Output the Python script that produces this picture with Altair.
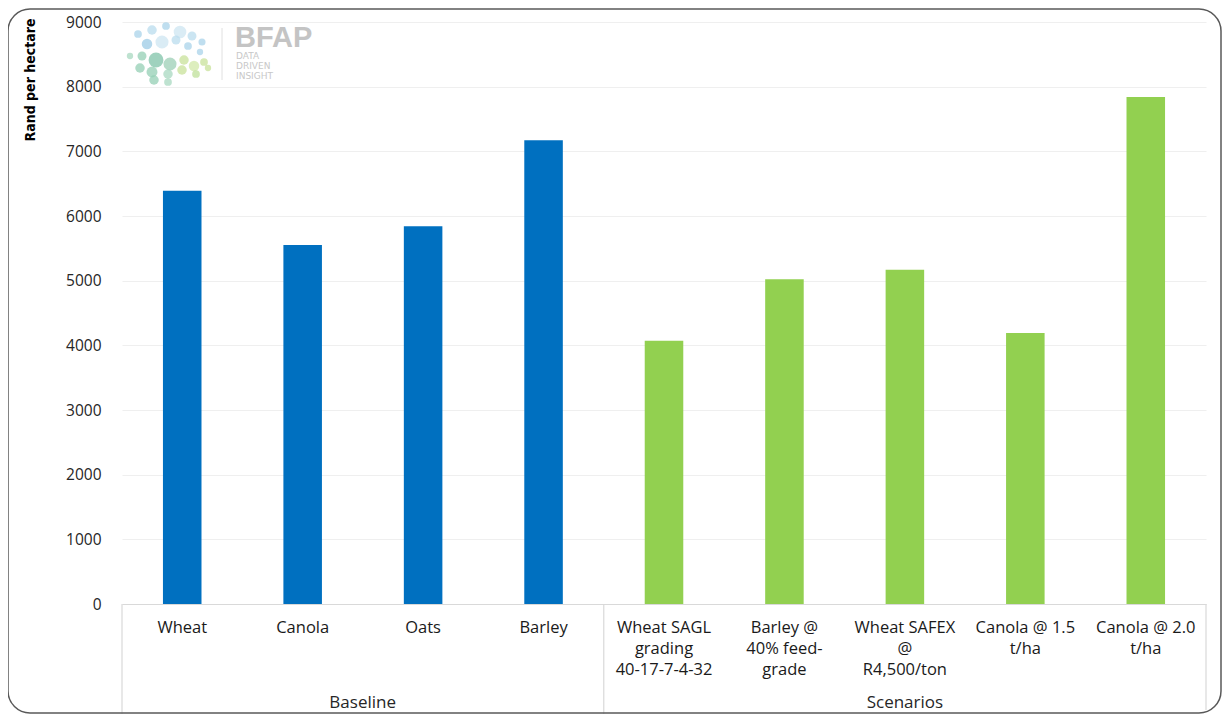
import altair as alt
import pandas as pd

categories = ["Wheat", "Canola", "Oats", "Barley",
              "Wheat SAGL|grading|40-17-7-4-32", "Barley @|40% feed-|grade",
              "Wheat SAFEX|@|R4,500/ton", "Canola @ 1.5|t/ha", "Canola @ 2.0|t/ha"]
values = [6390, 5550, 5840, 7170, 4070, 5020, 5170, 4190, 7840]
groups = ["Baseline"] * 4 + ["Scenarios"] * 5
group_names = ["Baseline", "Scenarios"]
group_anchor = ["Canola", "Wheat SAFEX|@|R4,500/ton"]
group_dx = [60, 0]
y_ticks = [0, 1000, 2000, 3000, 4000, 5000, 6000, 7000, 8000, 9000]

W, H = 1084, 582
FONT = "Open Sans"

df = pd.DataFrame({"cat": categories, "val": values, "grp": groups})

bar_scale = alt.Scale(domain=categories, paddingInner=0.68, paddingOuter=0.34)
flat_scale = alt.Scale(domain=categories, paddingInner=0, paddingOuter=0)

xenc = alt.X("cat:N", sort=categories, scale=bar_scale,
             axis=alt.Axis(title=None, labelExpr="split(datum.label, '|')",
                           labelAngle=0, labelFont=FONT, labelFontSize=16.5,
                           labelColor="#1a1a1a", labelLineHeight=21,
                           labelPadding=15, ticks=False, domainColor="#d9d9d9",
                           domainWidth=1, grid=False, labelBaseline="top"))

bars = alt.Chart(df).mark_bar().encode(
    x=xenc,
    y=alt.Y("val:Q", scale=alt.Scale(domain=[0, 9000], nice=False),
            axis=alt.Axis(values=y_ticks, format="d", title="Rand per hectare",
                          titleFont="DejaVu Sans Condensed", titleFontSize=14,
                          titleFontWeight="bold", titleColor="#000000",
                          titleAngle=-90, titleAlign="right", titleBaseline="middle",
                          titleX=-92, titleY=-4,
                          labelFont=FONT, labelFontSize=15.5, labelColor="#262626",
                          labelPadding=21, ticks=False, domain=False,
                          gridColor="#efefef", gridWidth=1)),
    color=alt.Color("grp:N", scale=alt.Scale(domain=group_names,
                                             range=["#0070C0", "#92D050"]),
                    legend=None),
)

sep_start = alt.Chart(pd.DataFrame({"cat": [categories[0], categories[4]]})).mark_rule(
    color="#d9d9d9", strokeWidth=1.2).encode(
    x=alt.X("cat:N", scale=flat_scale, axis=None, bandPosition=0),
    y=alt.value(H), y2=alt.value(H + 110))
sep_end = alt.Chart(pd.DataFrame({"cat": [categories[-1]]})).mark_rule(
    color="#d9d9d9", strokeWidth=1.2).encode(
    x=alt.X("cat:N", scale=flat_scale, axis=None, bandPosition=1),
    y=alt.value(H), y2=alt.value(H + 106))

gdf = pd.DataFrame({"cat": group_anchor, "name": group_names, "dx": group_dx})
glabels = []
for i in range(len(group_names)):
    glabels.append(alt.Chart(gdf.iloc[[i]]).mark_text(
        font=FONT, fontSize=17, color="#262626", dx=int(group_dx[i]),
        baseline="middle").encode(
        x=alt.X("cat:N", scale=bar_scale, axis=None), y=alt.value(H + 99), text="name:N"))

# logo decoration
logo_txt = alt.Chart(pd.DataFrame({"t": ["BFAP"]})).mark_text(
    font="Liberation Sans", fontSize=29, fontWeight="bold", color="#c4c4c4",
    align="left", baseline="alphabetic").encode(
    x=alt.value(113), y=alt.value(25), text="t:N")
logo_sub = alt.Chart(pd.DataFrame({"t": ["DATA", "DRIVEN", "INSIGHT"],
                                   "yy": [34, 44, 54]})).mark_text(
    font="DejaVu Sans", fontSize=9, color="#c8c8c8", align="left",
    baseline="middle").encode(
    x=alt.value(114), y=alt.Y("yy:Q", scale=None), text="t:N")
logo_line = alt.Chart(pd.DataFrame({"a": [0]})).mark_rule(color="#e0e0e0").encode(
    x=alt.value(100), y=alt.value(6), y2=alt.value(58))
bub_x = [16, 30, 44, 58, 70, 80, 25, 40, 54, 66, 78, 8, 20, 34, 48, 62, 72, 82, 30, 46, 60, 74, 86, 18, 32, 46]
bub_y = [12, 8, 4, 10, 14, 20, 22, 20, 18, 24, 30, 34, 34, 38, 42, 38, 44, 40, 50, 52, 48, 52, 46, 46, 58, 60]
bub_s = [60, 90, 60, 160, 80, 50, 110, 170, 80, 60, 40, 40, 80, 220, 170, 90, 110, 60, 120, 90, 90, 60, 40, 90, 90, 60]
bub_c = ["#a9d3ea", "#b9dcee", "#a9d3ea", "#cde6f2", "#b9dcee", "#a9d3ea", "#9ccbe6", "#cde6f2", "#b9dcee",
         "#a9d3ea", "#a9d3ea", "#a8d8c0", "#94cfb4", "#7fc3a8", "#9ccfb6", "#c8e29a", "#d2e8a8", "#c8e29a",
         "#94cfb4", "#a8d8c0", "#c8e29a", "#bfe09a", "#c8e29a", "#94cfb4", "#94cfb4", "#a8d8c0"]
bubbles = alt.Chart(pd.DataFrame({"bx": bub_x, "by": bub_y, "bs": bub_s, "bc": bub_c})).mark_circle(
    opacity=0.75).encode(
    x=alt.X("bx:Q", scale=None), y=alt.Y("by:Q", scale=None),
    size=alt.Size("bs:Q", scale=None), color=alt.Color("bc:N", scale=None))

border = alt.Chart(pd.DataFrame({"a": [0]})).mark_rect(
    fill=None, stroke="#595959", strokeWidth=1.5, cornerRadius=22).encode(
    x=alt.value(-114), x2=alt.value(W + 15), y=alt.value(-13), y2=alt.value(H + 109))

chart = alt.layer(bars, sep_start, sep_end, *glabels, bubbles, logo_line, logo_txt, logo_sub,
                  border).properties(
    width=W, height=H, autosize=alt.AutoSizeParams(type="none"),
    padding={"left": 114, "top": 14, "right": 16, "bottom": 110},
).configure_view(stroke=None).resolve_scale(color="independent", size="independent",
                                             x="independent")

chart.save("out.html", embed_options={"renderer": "svg", "actions": False})
